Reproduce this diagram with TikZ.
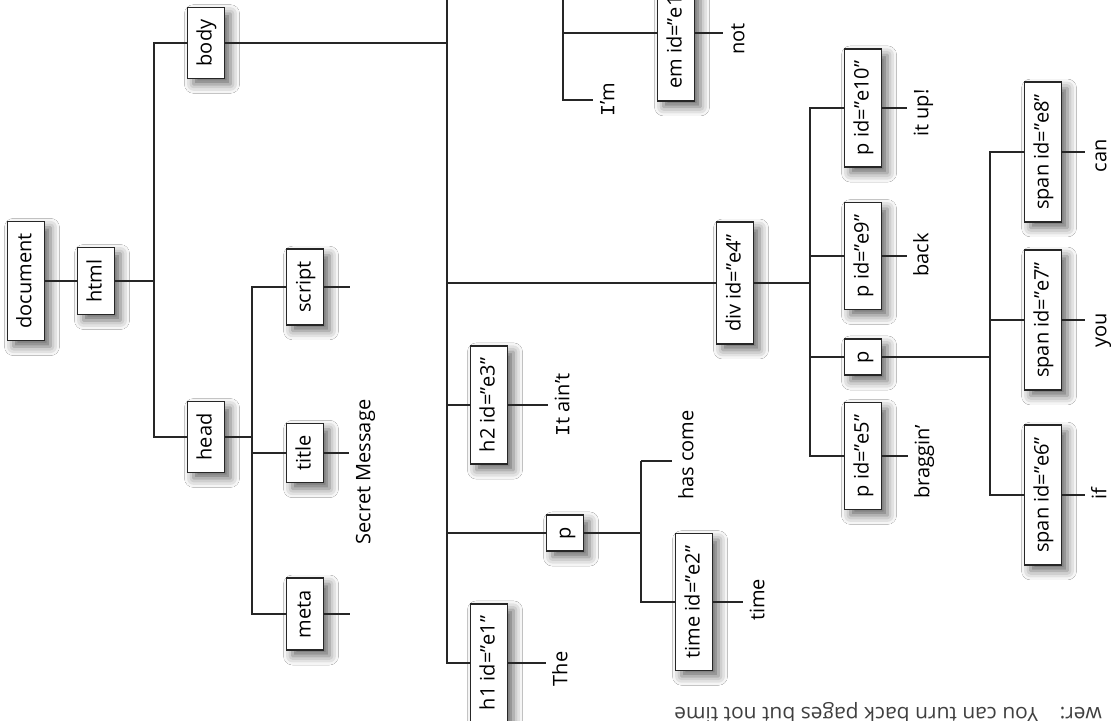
\documentclass[tikz,border=0pt]{standalone}
\usepackage{fontspec}
\setmainfont{Open Sans}
\newfontfamily\monofnt{Liberation Mono}
\usetikzlibrary{shadows.blur}
\tikzset{
  elem/.style={draw=black!85,fill=white,rotate=90,line width=0.7pt,
    minimum height=18.5pt,inner xsep=6pt,inner ysep=0pt,
    text height=7.5pt,text depth=2pt,font=\fontsize{10}{12}\selectfont,
    blur shadow={shadow xshift=3pt,shadow yshift=-3pt,shadow blur radius=4.5pt,shadow opacity=60}}, % tag box
  leaf/.style={rotate=90,anchor=north,inner xsep=0pt,inner ysep=3.5pt,
    text height=7pt,text depth=2pt,font=\fontsize{10}{12}\selectfont},        % text node
  edge/.style={draw=black!85,line width=0.7pt},
}

\begin{document}
\begin{tikzpicture}[x=0.5pt,y=-0.5pt]
  \useasboundingbox (0,0) rectangle (1111,721);
  \clip (0,0) rectangle (1111,721);
  \fill[white] (0,0) rectangle (1111,721);

  % document, html, head
  \node[elem] (doc) at (26,281) {document};
  \node[elem] (html) at (96,281) {html};
  \node[elem] (body) at (206,43) {body};
  \node[elem] (head) at (206,437) {head};
  \node[elem] (script) at (305,287) {script};
  \node[elem] (title) at (305,453) {title};
  \node[elem] (meta) at (305,614) {meta};
  \node[leaf] (tsec) at (349,472) {Secret Message};

  % body
  \node[elem] (h2) at (489,405) {h2 id=”e3”};
  \node[leaf] (tain) at (548,405) {{\monofnt I}t ain't};
  \node[elem] (pone) at (565,533) {p};
  \node[elem] (h1) at (489,663) {h1 id=”e1”};
  \node[leaf] (tthe) at (546,669) {The};
  \node[elem] (time) at (694,602) {time id=”e2”};
  \node[leaf] (ttime) at (743,600) {time};
  \node[leaf] (thas) at (672,455) {has come};
  \node[elem] (em) at (676,33) {em id=”e11”};
  \node[leaf] (tnot) at (723,39) {not};
  \node[leaf] (tim) at (593,100) {{\monofnt I}'m};

  % div
  \node[elem] (div) at (735,283) {div id=”e4”};
  \node[elem] (pten) at (863,108) {p id=”e10”};
  \node[leaf] (tup) at (907,113) {it up!};
  \node[elem] (pnine) at (863,256) {p id=”e9”};
  \node[leaf] (tback) at (907,255) {back};
  \node[elem] (ptwo) at (863,357) {p};
  \node[elem] (pfive) at (863,456) {p id=”e5”};
  \node[leaf] (tbrag) at (908,462) {braggin'};
  \node[elem] (seight) at (1043,152) {span id=”e8”};
  \node[leaf] (tcan) at (1085,156) {can};
  \node[elem] (sseven) at (1043,320) {span id=”e7”};
  \node[leaf] (tyou) at (1085,330) {you};
  \node[elem] (ssix) at (1043,495) {span id=”e6”};
  \node[leaf] (tif) at (1085,494) {if};

  \coordinate (hbus) at (154,0);
  \coordinate (headbus) at (252,0);
  \coordinate (btop) at (447,-10);
  \coordinate (ptop) at (563,-10);
  \coordinate (pbus) at (641,0);
  \coordinate (dbus) at (810,0);
  \coordinate (sbus) at (990,0);

  \draw[edge] (doc.south) -- (html.north);
  \draw[edge] (html.south) -- (html.south -| hbus);
  \draw[edge] (body.north) -| (hbus |- head.north) -- (head.north);

  \draw[edge] (head.south) -- (head.south -| headbus);
  \draw[edge] (script.north) -| (headbus |- meta.north) -- (meta.north);
  \draw[edge] (title.north) -- (title.north -| headbus);
  \draw[edge] (script.south) -- ++(26,0) coordinate (scend);
  \draw[edge] (meta.south) -- ++(26,0) coordinate (meend);
  \draw[edge] (title.south) -- (title.south -| tsec.north);

  \draw[edge] (body.south) -- (body.south -| btop);
  \draw[edge] (btop) |- (h1.north);
  \draw[edge] (div.north) -- (div.north -| btop);
  \draw[edge] (h2.north) -- (h2.north -| btop);
  \draw[edge] (pone.north) -- (pone.north -| btop);
  \draw[edge] (h2.south) -- (h2.south -| tain.north);
  \draw[edge] (h1.south) -- (h1.south -| tthe.north);

  \draw[edge] (ptop) |- (tim.north);
  \draw[edge] (em.north) -- (em.north -| ptop);
  \draw[edge] (em.south) -- (em.south -| tnot.north);

  \draw[edge] (pone.south) -- (pone.south -| pbus);
  \draw[edge] ([yshift=-3pt]thas.north -| pbus) -- ([yshift=-3pt]thas.north);
  \draw[edge] ([yshift=-3pt]thas.north -| pbus) |- (time.north);
  \draw[edge] (time.south) -- (time.south -| ttime.north);

  \draw[edge] (div.south) -- (div.south -| dbus);
  \draw[edge] (pten.north) -| (dbus |- pfive.north) -- (pfive.north);
  \draw[edge] (pnine.north) -- (pnine.north -| dbus);
  \draw[edge] (ptwo.north) -- (ptwo.north -| dbus);
  \draw[edge] (pten.south) -- (pten.south -| tup.north);
  \draw[edge] (pnine.south) -- (pnine.south -| tback.north);
  \draw[edge] (pfive.south) -- (pfive.south -| tbrag.north);

  \draw[edge] (ptwo.south) -- (ptwo.south -| sbus);
  \draw[edge] (seight.north) -| (sbus |- ssix.north) -- (ssix.north);
  \draw[edge] (sseven.north) -- (sseven.north -| sbus);
  \draw[edge] (seight.south) -- (seight.south -| tcan.north);
  \draw[edge] (sseven.south) -- (sseven.south -| tyou.north);
  \draw[edge] (ssix.south) -- (ssix.south -| tif.north);

  % upside-down line at the foot of the page
  \node[rotate=180,anchor=west,text=black!75,font=\fontsize{10.5}{12}\selectfont] (ans) at (1109,713) {wer:\quad You can turn back pages but not time};
\end{tikzpicture}
\end{document}
